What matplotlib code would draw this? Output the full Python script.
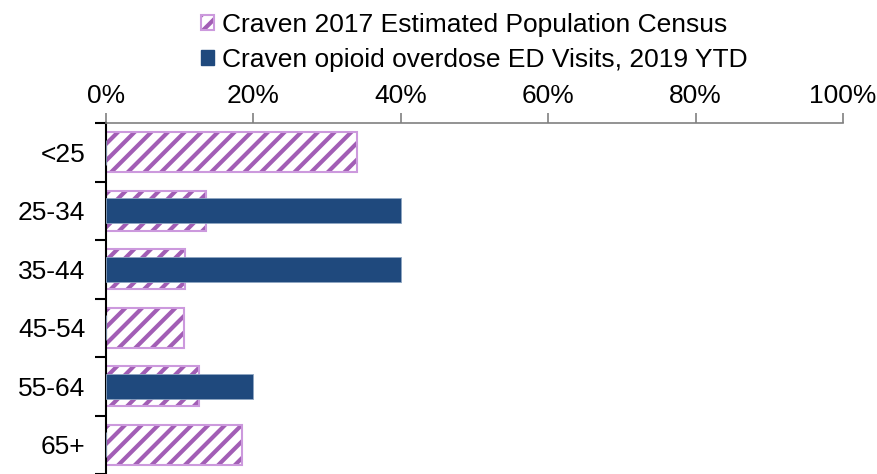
import numpy as np
import matplotlib
matplotlib.use("Agg")
import matplotlib.pyplot as plt
from matplotlib.patches import Patch
from matplotlib.ticker import FixedLocator, PercentFormatter

plt.rcParams['font.family'] = ['Liberation Sans', 'DejaVu Sans']
plt.rcParams['hatch.linewidth'] = 3.0

# data
age_groups = ['<25', '25-34', '35-44', '45-54', '55-64', '65+']
census_2017 = [34.1, 13.6, 10.7, 10.6, 12.6, 18.5]
ed_visits_2019 = [0, 40, 40, 0, 20, 0]
x_ticks = [0, 20, 40, 60, 80, 100]

hatch_col = '#A25EB5'
edge_col = '#CC99DD'
ed_col = '#1F497D'

fig = plt.figure(figsize=(8.78, 4.74), dpi=100)
ax = fig.add_axes([106/878, 0.0, (843-106)/878, 1 - 123/474])

y = np.arange(len(age_groups))

# hatch fill (hatch takes the edge colour), then a light outline on top
ax.barh(y, census_2017, height=0.69, color='white', edgecolor=hatch_col,
        linewidth=0, hatch='//', zorder=2)
ax.barh(y, census_2017, height=0.69, fill=False, edgecolor=edge_col,
        linewidth=1.5, zorder=2.5)
ax.barh(y, ed_visits_2019, height=0.43, color=ed_col, edgecolor='#8EA6C2',
        linewidth=0.6, zorder=3)

ax.set_xlim(0, 100)
ax.set_ylim(len(age_groups) - 0.5, -0.5)

ax.xaxis.tick_top()
ax.set_xticks(x_ticks)
ax.xaxis.set_major_formatter(PercentFormatter(decimals=0))
ax.tick_params(axis='x', colors='#808080', labelcolor='black', length=7,
               width=1.2, labelsize=19, pad=4, direction='out')

ax.set_yticks(y)
ax.set_yticklabels(age_groups)
ax.yaxis.set_minor_locator(FixedLocator(np.arange(-0.5, len(age_groups), 1.0)))
ax.tick_params(axis='y', which='major', length=0, labelsize=19, pad=15)
ax.tick_params(axis='y', which='minor', length=8, width=1.5, color='black')

ax.spines['right'].set_visible(False)
ax.spines['bottom'].set_visible(False)
ax.spines['top'].set_color('#808080')
ax.spines['top'].set_linewidth(1.2)
ax.spines['left'].set_color('black')
ax.spines['left'].set_linewidth(1.5)

census_handle = (Patch(facecolor='white', edgecolor=hatch_col, hatch='//', linewidth=0),
                 Patch(fill=False, edgecolor=edge_col, linewidth=1.5))
handles = [census_handle, Patch(facecolor=ed_col, edgecolor=ed_col)]
labels = ['Craven 2017 Estimated Population Census',
          'Craven opioid overdose ED Visits, 2019 YTD']
ax.legend(handles, labels, loc='lower center', bbox_to_anchor=(0.5, 1.145),
          frameon=False, fontsize=19, handlelength=0.5, handleheight=0.5,
          handletextpad=0.3, labelspacing=0.42, borderaxespad=0, borderpad=0)

fig.savefig('out.png', dpi=100)
